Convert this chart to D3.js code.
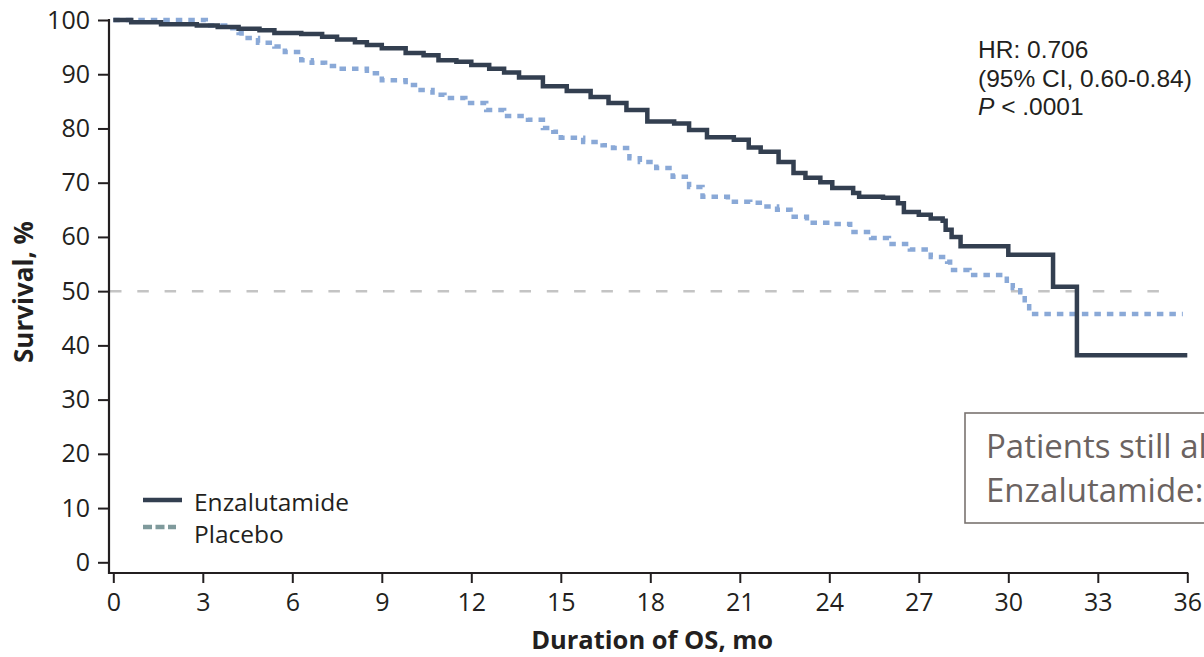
<!DOCTYPE html>
<html>
<head>
<meta charset="utf-8">
<script src="https://cdnjs.cloudflare.com/ajax/libs/d3/7.8.5/d3.min.js"></script>
<style>
body { margin: 0; background: #fff; }
svg { display: block; font-family: "Open Sans", sans-serif; }
</style>
</head>
<body>
<div id="chart"></div>
<script>
// Kaplan-Meier steps (months, % surviving)
var enzaMonths = [0, 0.6, 1.6, 2.8, 3.5, 4.2, 4.9, 5.4, 6.3, 7.0, 7.5, 8.1, 8.5, 9.0, 9.8, 10.4, 10.9, 11.5, 12.0, 12.6, 13.1, 13.6, 14.4, 15.2, 16.0, 16.6, 17.2, 17.9, 18.8, 19.3, 19.9, 20.8, 21.3, 21.7, 22.3, 22.8, 23.2, 23.7, 24.1, 24.8, 25.0, 25.8, 26.3, 26.5, 27.0, 27.4, 27.8, 27.9, 28.1, 28.4, 30.0, 31.5, 32.3, 36.0]
var enzaSurv = [100, 99.6, 99.2, 99.0, 98.7, 98.4, 98.1, 97.6, 97.4, 96.9, 96.4, 95.9, 95.4, 94.8, 93.9, 93.5, 92.6, 92.3, 91.7, 91.0, 90.3, 89.4, 87.8, 86.9, 85.8, 84.7, 83.4, 81.3, 80.9, 79.7, 78.4, 77.9, 76.5, 75.7, 73.8, 71.8, 70.9, 70.1, 69.0, 68.1, 67.4, 67.2, 66.2, 64.6, 64.1, 63.4, 63.0, 61.3, 60.0, 58.3, 56.7, 50.8, 38.2, 38.2]
var placeboMonths = [0, 3.1, 3.75, 4.2, 4.3, 4.85, 5.4, 5.75, 6.3, 6.65, 7.1, 7.5, 8.5, 9.0, 9.8, 10.2, 10.7, 11.1, 11.8, 12.5, 13.1, 13.9, 14.4, 14.75, 15.0, 15.75, 16.4, 16.75, 17.3, 17.65, 18.2, 18.75, 19.3, 19.75, 20.6, 21.35, 21.8, 22.25, 22.7, 23.25, 24.1, 24.7, 25.4, 26.0, 26.7, 27.4, 27.95, 28.05, 28.7, 29.95, 30.15, 30.4, 30.55, 30.7, 35.85]
var placeboSurv = [100, 99.0, 98.5, 97.6, 96.7, 95.8, 95.1, 94.1, 92.6, 92.1, 91.5, 91.0, 90.2, 88.9, 88.0, 87.1, 86.2, 85.6, 84.7, 83.4, 82.3, 81.6, 80.1, 79.4, 78.3, 77.5, 76.9, 76.4, 74.5, 73.8, 72.7, 71.1, 69.2, 67.4, 66.5, 66.3, 65.6, 65.0, 63.7, 62.6, 62.4, 60.9, 59.8, 58.7, 57.7, 56.3, 55.4, 53.9, 53.0, 51.5, 50.6, 49.1, 47.8, 45.8, 45.8]
var xTicks = [0, 3, 6, 9, 12, 15, 18, 21, 24, 27, 30, 33, 36]
var yTicks = [0, 10, 20, 30, 40, 50, 60, 70, 80, 90, 100]
var seriesNames = ["Enzalutamide", "Placebo"]
var statLines = ["HR: 0.706", "(95% CI, 0.60-0.84)"]

var width = 1204, height = 657
var svg = d3.select("#chart").append("svg").attr("width", width).attr("height", height)

var x = d3.scaleLinear().domain([0, 36]).range([113.3, 1187.3])
var y = d3.scaleLinear().domain([0, 100]).range([562.3, 20])
var axisX = 109, axisY = 573
var ink = "#231f20"

// median reference line
svg.append("line")
    .attr("x1", axisX + 1).attr("x2", 1163)
    .attr("y1", y(50)).attr("y2", y(50))
    .attr("stroke", "#c4c4c4").attr("stroke-width", 2.5)
    .attr("stroke-dasharray", "11.5,15.8")

// axes
var yAxis = d3.axisLeft(y).tickValues(yTicks).tickSize(11).tickPadding(8).tickSizeOuter(0)
var gy = svg.append("g").attr("transform", "translate(" + axisX + ",0)").call(yAxis)
var xAxis = d3.axisBottom(x).tickValues(xTicks).tickSize(10).tickPadding(10).tickSizeOuter(0)
var gx = svg.append("g").attr("transform", "translate(0," + axisY + ")").call(xAxis)
gy.select(".domain").remove()
gx.select(".domain").remove()
svg.selectAll(".tick line").attr("stroke", ink).attr("stroke-width", 2)
svg.selectAll(".tick text").attr("fill", ink).style("font-size", "25px").style("font-family", "'Open Sans', sans-serif")
svg.append("line").attr("x1", axisX).attr("x2", axisX).attr("y1", y(100) - 1).attr("y2", axisY + 1)
    .attr("stroke", ink).attr("stroke-width", 2.2)
svg.append("line").attr("x1", axisX - 1).attr("x2", x(36) + 1).attr("y1", axisY).attr("y2", axisY)
    .attr("stroke", ink).attr("stroke-width", 2.2)

// axis titles
svg.append("text").attr("x", (axisX + x(36)) / 2 + 4).attr("y", 649)
    .attr("text-anchor", "middle").attr("fill", ink)
    .style("font-size", "25.5px").style("font-weight", "bold")
    .text("Duration of OS, mo")
svg.append("text").attr("transform", "translate(33," + 292 + ") rotate(-90)")
    .attr("text-anchor", "middle").attr("fill", ink)
    .style("font-size", "26px").style("font-weight", "bold")
    .text("Survival, %")

// curves
var line = d3.line().x(function(d){ return x(d[0]) }).y(function(d){ return y(d[1]) }).curve(d3.curveStepAfter)
var placeboData = placeboMonths.map(function(t, i){ return [t, placeboSurv[i]] })
var enzaData = enzaMonths.map(function(t, i){ return [t, enzaSurv[i]] })
svg.append("path").datum(placeboData).attr("d", line)
    .attr("fill", "none").attr("stroke", "#8aa9d7").attr("stroke-width", 4.5)
    .attr("stroke-dasharray", "6.5,6")
svg.append("path").datum(enzaData).attr("d", line)
    .attr("fill", "none").attr("stroke", "#333f50").attr("stroke-width", 4.5)

// legend
svg.append("line").attr("x1", 143).attr("x2", 182).attr("y1", 500).attr("y2", 500)
    .attr("stroke", "#333f50").attr("stroke-width", 4.5)
svg.append("line").attr("x1", 143).attr("x2", 176).attr("y1", 527).attr("y2", 527)
    .attr("stroke", "#7f9a9c").attr("stroke-width", 4.5).attr("stroke-dasharray", "9,3.5")
svg.selectAll(".legtext").data(seriesNames).enter().append("text")
    .attr("class", "legtext")
    .attr("x", 194).attr("y", function(d, i){ return 511 + i * 32 })
    .attr("fill", ink).style("font-size", "24.5px")
    .text(function(d){ return d })

// statistics
var statFont = "'Liberation Sans', Arial, sans-serif"
svg.selectAll(".stat").data(statLines).enter().append("text")
    .attr("class", "stat")
    .attr("x", 978).attr("y", function(d, i){ return 58 + i * 28.5 })
    .attr("fill", ink).style("font-size", "24.5px").style("font-family", statFont)
    .text(function(d){ return d })
var p = svg.append("text").attr("x", 978).attr("y", 115).attr("fill", ink)
    .style("font-size", "24.5px").style("font-family", statFont)
p.append("tspan").style("font-style", "italic").text("P")
p.append("tspan").text(" < .0001")

// box of patients still alive (cut at the right edge, as in the original)
svg.append("rect").attr("x", 965).attr("y", 413).attr("width", 300).attr("height", 110)
    .attr("fill", "none").attr("stroke", "#7a7370").attr("stroke-width", 1.6)
svg.append("text").attr("x", 986).attr("y", 458).attr("fill", "#6b6361").style("font-size", "33px")
    .text("Patients still alive")
svg.append("text").attr("x", 986).attr("y", 502).attr("fill", "#6b6361").style("font-size", "33px")
    .text("Enzalutamide:")
</script>
</body>
</html>
